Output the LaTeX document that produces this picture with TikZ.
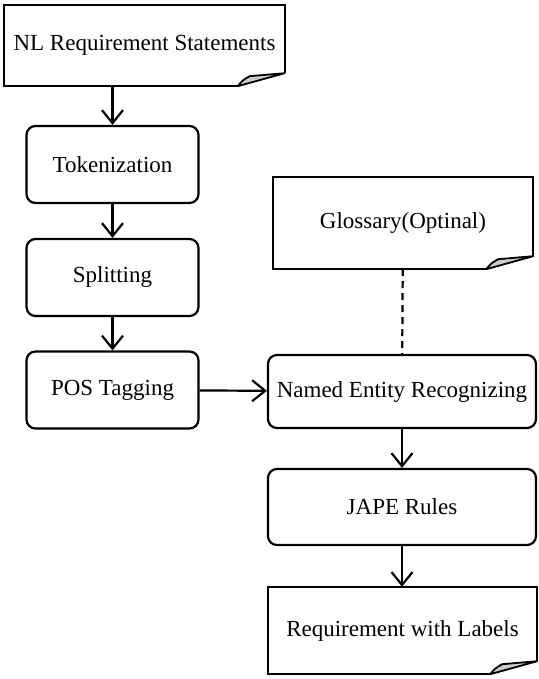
\documentclass[tikz,border=0pt]{standalone}
\usepackage{fontspec}
\setmainfont{Liberation Serif}
\usetikzlibrary{arrows.meta}

\tikzset{
	stage/.style={draw, line width=2.2pt, rounded corners=9pt, minimum width=172pt, minimum height=77pt, inner sep=0pt, font=\fontsize{23}{27}\selectfont},
	docu/.style={inner sep=0pt, font=\fontsize{23}{27}\selectfont},
	flow/.style={line width=2.2pt, -{Straight Barb[length=13pt,width=21pt]}},
}

% document outline with curled corner
\newcommand{\docframe}[1]{
	\draw[line width=2.2pt] ([xshift=-47pt]#1.south east)--(#1.south west)--(#1.north west)--(#1.north east)--([yshift=13pt]#1.south east);
	\filldraw[fill=gray!40, line width=1.8pt, line join=round] ([xshift=-47pt]#1.south east) .. controls ([xshift=-42pt,yshift=6pt]#1.south east) .. ([xshift=-35pt,yshift=10pt]#1.south east)--([yshift=13pt]#1.south east)--cycle;
}

\begin{document}
\begin{tikzpicture}[x=1pt,y=-1pt]
	
	\useasboundingbox (0,0) rectangle (538,679);
	%\draw[step=50,gray,thin] (0,0) grid (538,679);
	
	\node[docu, minimum width=280pt, minimum height=81pt] (nl) at (144.5,45.5) {NL Requirement Statements};
	\docframe{nl}
	
	\node[stage] (tok) at (112.5,164.5) {Tokenization};
	\node[stage] (split) at (112.5,277.5) {Splitting};
	\node[stage] (pos) at (112.5,390) {POS Tagging};
	
	\node[docu, minimum width=260pt, minimum height=92pt] (gloss) at (403,223) {Glossary(Optinal)};
	\docframe{gloss}
	
	\node[stage, minimum width=268pt, minimum height=73pt] (ner) at (402,391.5) {Named Entity Recognizing};
	\node[stage, minimum width=268pt, minimum height=76pt] (jape) at (402,507) {JAPE Rules};
	
	\node[docu, minimum width=269pt, minimum height=87pt] (req) at (402.5,630.5) {Requirement with Labels};
	\docframe{req}
	
	\draw[flow] (nl.south -| tok.north)--(tok.north);
	\draw[flow] (tok)--(split);
	\draw[flow] (split)--(pos);
	\draw[flow] (pos)--(ner);
	\draw[flow] (ner)--(jape);
	\draw[flow] (jape.south)--(req.north -| jape.south);
	\draw[line width=2.2pt, dash pattern=on 7pt off 5pt] (gloss)--(ner);
	
\end{tikzpicture}
\end{document}
